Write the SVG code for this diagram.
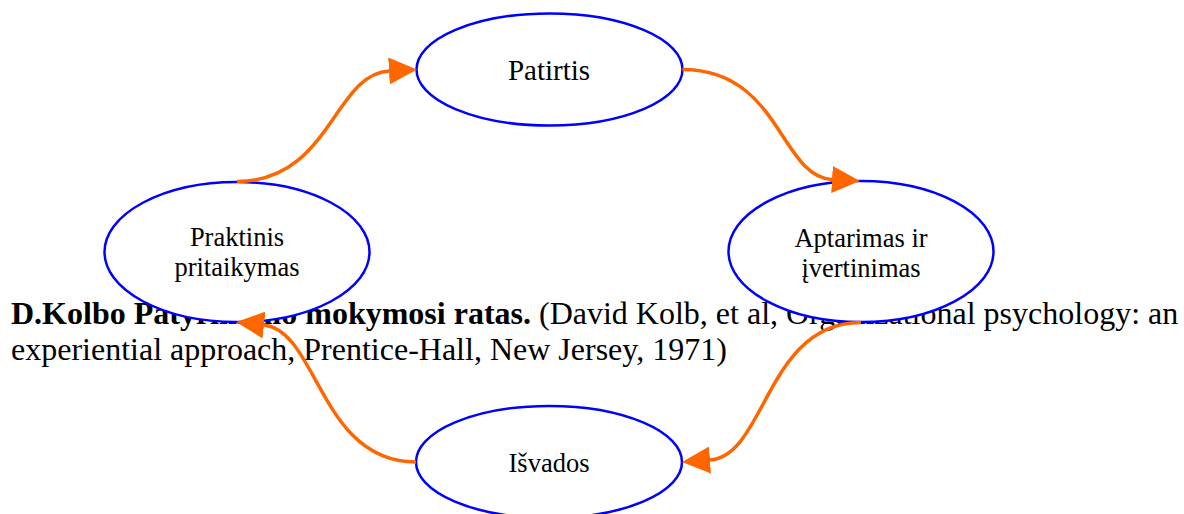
<svg xmlns="http://www.w3.org/2000/svg" width="1184" height="514" viewBox="0 0 1184 514">
<style>
.node{fill:#ffffff;stroke:#0000ff;stroke-width:2.5}
.lbl{font-family:"Liberation Serif","Times New Roman",serif;font-size:26.5px;fill:#000;text-anchor:middle}
.cap{font-family:"Liberation Serif","Times New Roman",serif;font-size:32px;fill:#000}
.edge{fill:none;stroke:#ff6600;stroke-width:3.5;marker-end:url(#arr)}
</style>
<defs>
<marker id="arr" markerUnits="userSpaceOnUse" markerWidth="28" markerHeight="28" refX="0" refY="14" orient="auto" viewBox="0 0 28 28">
<path d="M0,0.5 L28,14 L0,27.5 z" fill="#ff6600"/>
</marker>
</defs>
<rect width="1184" height="514" fill="#ffffff"/>
<g id="caption">
<text class="cap" x="11" y="324"><tspan font-weight="bold">D.Kolbo Patyriminio mokymosi ratas.</tspan> (David Kolb, et al, Organizational psychology: an</text>
<text class="cap" x="11" y="360">experiential approach, Prentice-Hall, New Jersey, 1971)</text>
</g>
<g id="node-patirtis">
<ellipse class="node" cx="549.5" cy="69.5" rx="133" ry="56"/>
<text class="lbl" x="549" y="80" style="font-size:29px">Patirtis</text>
</g>
<g id="node-aptarimas">
<ellipse class="node" cx="861" cy="251.5" rx="132.5" ry="70.5"/>
<text class="lbl" x="861" y="247">Aptarimas ir</text>
<text class="lbl" x="861" y="277">įvertinimas</text>
</g>
<g id="node-isvados">
<ellipse class="node" cx="549" cy="462" rx="133" ry="56"/>
<text class="lbl" x="549" y="472">Išvados</text>
</g>
<g id="node-praktinis">
<ellipse class="node" cx="237" cy="252" rx="132.5" ry="70"/>
<text class="lbl" x="237" y="246">Praktinis</text>
<text class="lbl" x="237" y="276">pritaikymas</text>
</g>
<g id="connectors">
<path class="edge" d="M237,181.5 C330,181.5 334,74 389,71"/>
<path class="edge" d="M682.5,69.5 C780,69.5 780,176.5 832,179.5"/>
<path class="edge" d="M861,322.5 C766,322.5 766,456 710,460"/>
<path class="edge" d="M416,462 C320,462 318,331 264,325"/>
</g>
</svg>
